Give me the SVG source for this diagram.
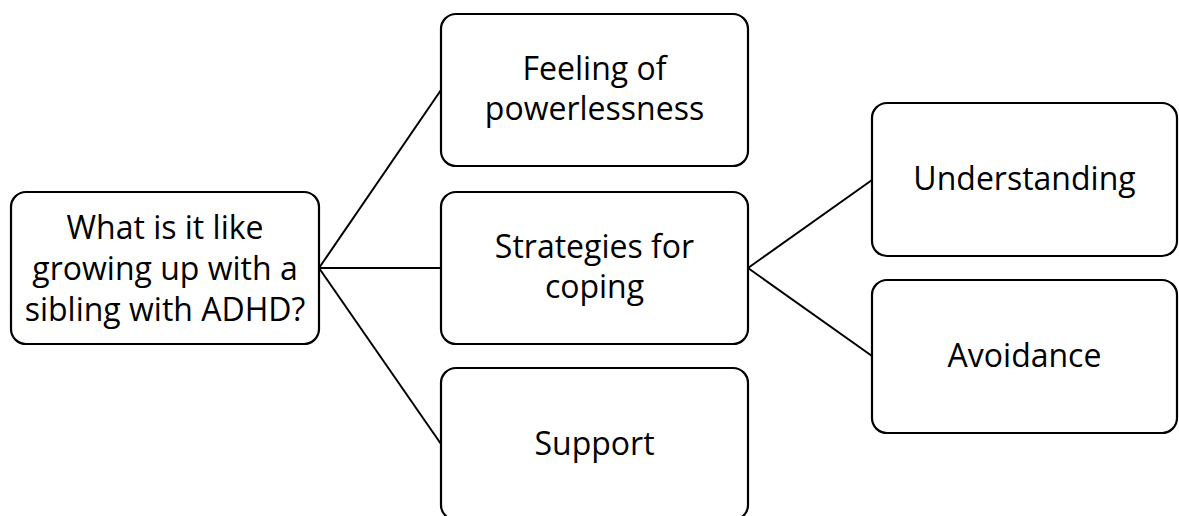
<svg xmlns="http://www.w3.org/2000/svg" width="1179" height="516" viewBox="0 0 1179 516">
  <style>
    .box { fill: #ffffff; stroke: #000000; stroke-width: 2.2; }
    .lbl { font-family: "Open Sans", "Liberation Sans", sans-serif; font-size: 32px; fill: #000000; text-anchor: middle; }
    .link { stroke: #000000; stroke-width: 2; fill: none; }
  </style>
  <rect width="1179" height="516" fill="#ffffff"/>

  <!-- connectors -->
  <g id="connectors">
    <line class="link" x1="319" y1="268" x2="441" y2="90"/>
    <line class="link" x1="319" y1="268" x2="441" y2="268"/>
    <line class="link" x1="319" y1="268" x2="441" y2="444"/>
    <line class="link" x1="748" y1="268" x2="872" y2="180"/>
    <line class="link" x1="748" y1="268" x2="872" y2="356"/>
  </g>

  <!-- root question -->
  <g id="root">
    <rect class="box" x="11" y="192" width="308" height="152" rx="15"/>
    <text class="lbl" x="165" y="239">What is it like</text>
    <text class="lbl" x="165" y="280">growing up with a</text>
    <text class="lbl" x="165" y="321">sibling with ADHD?</text>
  </g>

  <g id="powerlessness">
    <rect class="box" x="441" y="14" width="307" height="152" rx="15"/>
    <text class="lbl" x="594.5" y="80">Feeling of</text>
    <text class="lbl" x="594.5" y="120">powerlessness</text>
  </g>

  <g id="strategies">
    <rect class="box" x="441" y="192" width="307" height="152" rx="15"/>
    <text class="lbl" x="594.5" y="258">Strategies for</text>
    <text class="lbl" x="594.5" y="298">coping</text>
  </g>

  <g id="support">
    <rect class="box" x="441" y="368" width="307" height="152" rx="15"/>
    <text class="lbl" x="594.5" y="455">Support</text>
  </g>

  <g id="understanding">
    <rect class="box" x="872" y="103" width="305" height="153" rx="15"/>
    <text class="lbl" x="1024.5" y="190">Understanding</text>
  </g>

  <g id="avoidance">
    <rect class="box" x="872" y="280" width="305" height="153" rx="15"/>
    <text class="lbl" x="1024.5" y="367">Avoidance</text>
  </g>
</svg>
